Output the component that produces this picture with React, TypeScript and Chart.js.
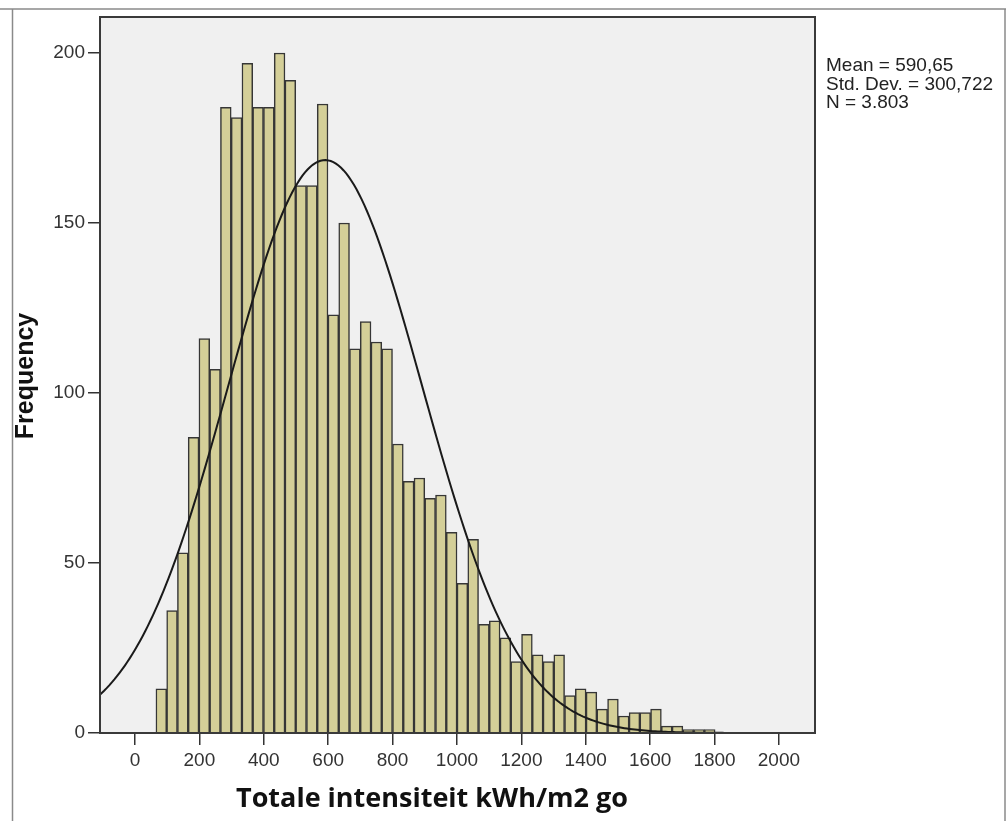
import React, { useEffect, useRef } from "react";
import { Chart, registerables } from "chart.js";

Chart.register(...registerables);

// Histogram of "Totale intensiteit kWh/m2 go"
const binStart = 65;
const binWidth = 33.4;
const binCounts = [
  13, 36, 53, 87, 116, 107, 184, 181, 197, 184, 184, 200, 192, 161, 161, 185,
  123, 150, 113, 121, 115, 113, 85, 74, 75, 69, 70, 59, 44, 57, 32, 33, 28, 21,
  29, 23, 21, 23, 11, 13, 12, 7, 10, 5, 6, 6, 7, 2, 2, 1, 1, 1,
];
const xTickValues = [0, 200, 400, 600, 800, 1000, 1200, 1400, 1600, 1800, 2000];
const yTickValues = [0, 50, 100, 150, 200];
const statMean = 590.65;
const statSD = 300.722;
const statN = 3803;
const statLines = ["Mean = 590,65", "Std. Dev. = 300,722", "N = 3.803"];
const xTitle = "Totale intensiteit kWh/m2 go";
const yTitle = "Frequency";

const X_MIN = -108.7;
const X_MAX = 2112;
const Y_MAX = 210.6;

export default function App() {
  const canvasRef = useRef<HTMLCanvasElement | null>(null);

  useEffect(() => {
    const canvas = canvasRef.current;
    if (!canvas) return;

    const barData = binCounts.map((c, i) => ({
      x: binStart + binWidth * (i + 0.5),
      y: c,
    }));

    // fitted normal curve from stated Mean / Std. Dev. / N
    const peak = (statN * binWidth) / (statSD * Math.sqrt(2 * Math.PI));
    const curveData: { x: number; y: number }[] = [];
    for (let x = -120; x <= 2130; x += 8) {
      const z = (x - statMean) / statSD;
      curveData.push({ x, y: peak * Math.exp(-0.5 * z * z) });
    }

    const decor = {
      id: "decor",
      beforeDraw(chart: any) {
        const { ctx, chartArea: a } = chart;
        ctx.save();
        ctx.fillStyle = "#ffffff";
        ctx.fillRect(0, 0, chart.width, chart.height);
        ctx.strokeStyle = "#8a8a8a";
        ctx.lineWidth = 1.5;
        ctx.beginPath();
        ctx.moveTo(0, 9);
        ctx.lineTo(chart.width, 9);
        ctx.moveTo(12.5, 9);
        ctx.lineTo(12.5, chart.height);
        ctx.moveTo(1005, 9);
        ctx.lineTo(1005, chart.height);
        ctx.stroke();
        ctx.fillStyle = "#f0f0f0";
        ctx.fillRect(a.left, a.top, a.right - a.left, a.bottom - a.top);
        ctx.restore();
      },
      afterDatasetsDraw(chart: any) {
        const { ctx, chartArea: a } = chart;
        ctx.save();
        ctx.strokeStyle = "#3a3a3a";
        ctx.lineWidth = 2;
        ctx.strokeRect(a.left, a.top, a.right - a.left, a.bottom - a.top);
        ctx.restore();
      },
      afterDraw(chart: any) {
        const { ctx } = chart;
        ctx.save();
        ctx.fillStyle = "#111111";
        ctx.font = "bold 27px 'Open Sans', 'Liberation Sans', sans-serif";
        ctx.textAlign = "center";
        ctx.textBaseline = "middle";
        ctx.fillText(xTitle, 432, 799);
        ctx.save();
        ctx.translate(26, 376);
        ctx.rotate(-Math.PI / 2);
        ctx.font = "bold 25px 'Liberation Sans', Arial, sans-serif";
        ctx.fillText(yTitle, 0, 0);
        ctx.restore();
        ctx.font = "19px 'Liberation Sans', Arial, sans-serif";
        ctx.fillStyle = "#222222";
        ctx.textAlign = "left";
        statLines.forEach((t, i) => ctx.fillText(t, 826, 66 + i * 18.5));
        ctx.restore();
      },
    };

    const chart = new Chart(canvas, {
      type: "bar",
      data: {
        datasets: [
          {
            type: "line",
            data: curveData,
            borderColor: "#1a1a1a",
            borderWidth: 2,
            pointRadius: 0,
            tension: 0,
            fill: false,
            order: 0,
          } as any,
          {
            type: "bar",
            data: barData,
            backgroundColor: "#d4cf98",
            borderColor: "#363636",
            borderWidth: 1.5,
            barPercentage: 1,
            categoryPercentage: 1,
            order: 1,
          } as any,
        ],
      },
      options: {
        responsive: false,
        animation: false,
        events: [],
        layout: { padding: { left: 0, top: 17, right: 191, bottom: 0 } },
        plugins: {
          legend: { display: false },
          tooltip: { enabled: false },
          title: { display: false },
        },
        scales: {
          x: {
            type: "linear",
            min: X_MIN,
            max: X_MAX,
            offset: false,
            border: { display: false },
            grid: {
              offset: false,
              drawOnChartArea: false,
              drawTicks: true,
              tickLength: 12,
              color: "#333333",
              lineWidth: 1.5,
            },
            ticks: {
              color: "#333333",
              padding: 4,
              maxRotation: 0,
              font: { family: "'Liberation Sans', Arial, sans-serif", size: 19 },
              callback: (v: any) => String(v),
            },
            afterBuildTicks(scale: any) {
              scale.ticks = xTickValues.map((v) => ({ value: v }));
            },
            afterFit(scale: any) {
              scale.height = 88;
            },
          },
          y: {
            type: "linear",
            min: 0,
            max: Y_MAX,
            border: { display: false },
            grid: {
              drawOnChartArea: false,
              drawTicks: true,
              tickLength: 12,
              color: "#333333",
              lineWidth: 1.5,
            },
            ticks: {
              color: "#333333",
              padding: 3,
              font: { family: "'Liberation Sans', Arial, sans-serif", size: 19 },
              callback: (v: any) => String(v),
            },
            afterBuildTicks(scale: any) {
              scale.ticks = yTickValues.map((v) => ({ value: v }));
            },
            afterFit(scale: any) {
              scale.width = 100;
            },
          },
        },
      },
      plugins: [decor],
    } as any);

    return () => chart.destroy();
  }, []);

  return (
    <div style={{ position: "absolute", left: 0, top: 0, width: 1006, height: 821 }}>
      <canvas ref={canvasRef} width={1006} height={821} />
    </div>
  );
}
